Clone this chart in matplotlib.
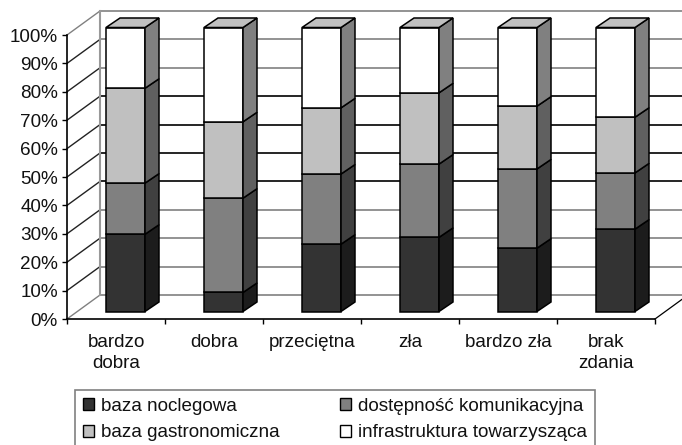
import matplotlib
matplotlib.use('Agg')
import matplotlib.pyplot as plt
from matplotlib.patches import Patch
from matplotlib.transforms import Affine2D

plt.rcParams['font.family'] = ['Liberation Sans', 'DejaVu Sans']

# datos (% de cada categoria)
categorias = ['bardzo\ndobra', 'dobra', 'przeciętna', 'zła', 'bardzo zła', 'brak\nzdania']
baza_noclegowa = [27.2, 6.7, 23.7, 26.1, 22.3, 29.0]
dostepnosc = [18.0, 33.2, 24.7, 25.8, 27.9, 19.8]
baza_gastro = [33.4, 26.9, 23.3, 25.1, 22.1, 19.6]
infrastruktura = [21.4, 33.2, 28.3, 23.0, 27.7, 31.6]
etiquetas_serie = ['baza noclegowa', 'dostępność komunikacyjna',
                   'baza gastronomiczna', 'infrastruktura towarzysząca']
etiquetas_y = ['0%', '10%', '20%', '30%', '40%', '50%', '60%', '70%', '80%', '90%', '100%']
valores_y = [0, 10, 20, 30, 40, 50, 60, 70, 80, 90, 100]

W, H = 682, 445
X0, X1, Y0, Y1 = 67, 655, 319, 35   # plano frontal en pixeles
PX = 6 / (X1 - X0)                  # unidades de dato por pixel
PY = 100 / (Y0 - Y1)

fig = plt.figure(figsize=(W / 100, H / 100), dpi=100)
ax = fig.add_axes([X0 / W, 1 - Y0 / H, (X1 - X0) / W, (Y0 - Y1) / H])
ax.set_xlim(0, 6)
ax.set_ylim(0, 100)
ax.patch.set_visible(False)

# paredes y lineas de grilla
wall_dx, wall_dy = 33 * PX, 24 * PY
gris = '#808080'
colores_grilla = [gris, gris, gris, gris, 'black', 'black', 'black', 'black', gris, gris, gris]
for v, c in zip(valores_y, colores_grilla):
    ax.plot([6 + wall_dx, wall_dx], [v + wall_dy, v + wall_dy], color=c, lw=1.2, clip_on=False, zorder=1)
    ax.plot([wall_dx, 0], [v + wall_dy, v], color=gris if v in (0, 100) else '#222222',
            lw=1.0, clip_on=False, zorder=1)
ax.plot([wall_dx, wall_dx], [wall_dy, 100 + wall_dy], color='#999999', lw=1.5, clip_on=False, zorder=1)
ax.plot([6, 6 + wall_dx], [0, wall_dy], color='black', lw=0.9, clip_on=False, zorder=1)

# barras apiladas con efecto 3D
series = [baza_noclegowa, dostepnosc, baza_gastro, infrastruktura]
frente = ['#333333', '#808080', '#c0c0c0', '#ffffff']
lado = ['#1c1c1c', '#404040', '#606060', '#808080']
tapa = '#c0c0c0'
ancho = 39 * PX
bar_dx, bar_dy = 14 * PX, 9.5 * PY
desp = ax.transData + Affine2D().translate(9.5, 7.5)

for i in range(len(categorias)):
    base = 0
    cx = i + 0.5
    der = cx + ancho / 2
    izq = cx - ancho / 2
    for s, serie in enumerate(series):
        val = serie[i]
        ax.bar(cx, val, width=ancho, bottom=base, color=frente[s], edgecolor='black', lw=1.1,
               transform=desp, clip_on=False, zorder=3)
        ax.fill([der, der + bar_dx, der + bar_dx, der],
                [base, base + bar_dy, base + val + bar_dy, base + val],
                facecolor=lado[s], edgecolor='black', lw=1.1, transform=desp, clip_on=False, zorder=3)
        base += val
    ax.fill([izq, der, der + bar_dx, izq + bar_dx],
            [base, base, base + bar_dy, base + bar_dy],
            facecolor=tapa, edgecolor='black', lw=1.1, transform=desp, clip_on=False, zorder=3)

# ejes
for lado_eje in ['top', 'right']:
    ax.spines[lado_eje].set_visible(False)
for lado_eje in ['left', 'bottom']:
    ax.spines[lado_eje].set_linewidth(1.2)
    ax.spines[lado_eje].set_zorder(2)
ax.set_yticks(valores_y)
ax.set_yticklabels(etiquetas_y, fontsize=13.6, color='#111111')
ax.set_xticks(range(7))
ax.set_xticklabels([])
ax.set_xticks([i + 0.5 for i in range(6)], minor=True)
ax.set_xticklabels(categorias, minor=True, fontsize=13.6, color='#111111', linespacing=1.3)
ax.tick_params(axis='y', length=3.6, width=1, pad=3)
ax.tick_params(axis='x', which='major', length=3.6, width=1)
ax.tick_params(axis='x', which='minor', length=0, pad=11)

# leyenda
handles = [Patch(facecolor=c, edgecolor='black', lw=1) for c in [frente[0], frente[2], frente[1], frente[3]]]
labels = [etiquetas_serie[0], etiquetas_serie[2], etiquetas_serie[1], etiquetas_serie[3]]
leg = fig.legend(handles, labels, ncol=2, loc='upper left', bbox_to_anchor=(75 / W, 1 - 390 / H),
                 borderaxespad=0, fontsize=13.6, frameon=True, fancybox=False, edgecolor=gris,
                 handlelength=0.6, handleheight=0.6, handletextpad=0.35, columnspacing=3.2,
                 labelspacing=0.5, borderpad=0.42, labelcolor='#111111')
leg.get_frame().set_linewidth(1.2)
leg.get_frame().set_alpha(1)

fig.savefig('out.png', dpi=100)
